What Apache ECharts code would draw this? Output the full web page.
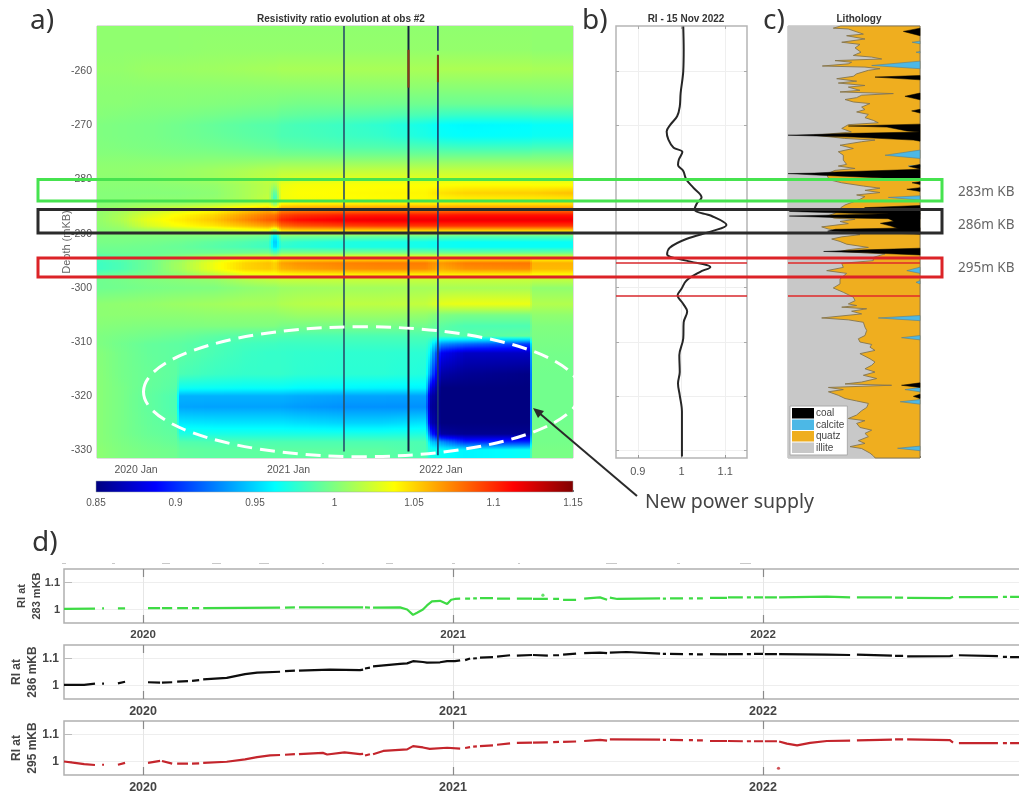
<!DOCTYPE html>
<html><head><meta charset="utf-8">
<script src="https://cdn.jsdelivr.net/npm/echarts@6/dist/echarts.min.js"></script>
<style>html,body{margin:0;padding:0;background:#fff}#c{width:1019px;height:795px;filter:blur(0.45px)}</style>
</head><body><div id="c"></div>
<script>
// ---------- panel a: resistivity ratio, columns = timeYears, rows = heatDepths
const timeYears=[2019.744,2019.90,2020.09,2020.268,2020.282,2020.52,2020.715,2020.87,2020.91,2020.95,2021.075,2021.34,2021.6,2021.90,2021.925,2022.0,2022.16,2022.585,2022.595,2022.866];
const heatDepths=[-251.6,-256,-259.5,-263,-266,-268,-270,-272,-274,-275.5,-277,-278.5,-280,-281,-282.5,-283.5,-284.5,-285.5,-286.5,-287.5,-288.5,-289.5,-290.5,-291.5,-292.5,-293.5,-294.5,-295.5,-296.5,-297.5,-298.5,-300,-303,-305,-307,-309,-310.5,-312,-316,-318.5,-320,-322,-325,-327,-328.5,-330,-331.5];
const heatRows=[
[1.005,1.005,1.005,1.005,1.005,1.005,1.005,1.005,1.005,1.005,1.005,1.005,1.005,1.005,1.005,1.005,1.005,1.005,1.005,1.005],
[1.005,1.005,1.005,1.005,1.005,1.006,1.006,1.006,1.006,1.006,1.006,1.006,1.006,1.006,1.006,1.006,1.006,1.006,1.005,1.005],
[1.006,1.006,1.008,1.008,1.008,1.009,1.010,1.011,1.011,1.012,1.012,1.012,1.012,1.012,1.012,1.013,1.013,1.013,1.012,1.012],
[1.004,1.004,1.004,1.004,1.004,1.004,1.004,1.004,1.004,1.004,1.004,1.004,1.004,1.004,1.004,1.003,1.003,1.003,1.003,1.003],
[1.003,1.003,1.002,1.002,1.002,1.001,1.000,0.999,0.999,0.998,0.997,0.997,0.996,0.995,0.995,0.994,0.994,0.994,0.995,0.995],
[1.002,1.001,1.000,0.999,0.999,0.997,0.995,0.994,0.994,0.992,0.991,0.989,0.987,0.984,0.984,0.980,0.979,0.979,0.980,0.980],
[1.000,0.999,0.998,0.996,0.996,0.992,0.989,0.987,0.987,0.985,0.983,0.980,0.976,0.968,0.967,0.963,0.961,0.962,0.964,0.964],
[1.000,0.999,0.998,0.996,0.996,0.993,0.990,0.988,0.987,0.985,0.984,0.981,0.978,0.970,0.969,0.965,0.963,0.964,0.966,0.966],
[1.001,1.000,0.999,0.998,0.998,0.996,0.994,0.992,0.992,0.990,0.989,0.987,0.986,0.984,0.984,0.981,0.980,0.980,0.982,0.982],
[1.002,1.002,1.001,1.000,1.000,1.000,0.999,0.998,0.998,0.997,0.997,0.996,0.996,0.995,0.995,0.994,0.994,0.994,0.996,0.996],
[1.004,1.004,1.004,1.004,1.004,1.005,1.006,1.007,1.007,1.008,1.008,1.008,1.008,1.008,1.008,1.008,1.008,1.008,1.008,1.008],
[1.005,1.005,1.006,1.007,1.007,1.010,1.013,1.016,1.016,1.018,1.018,1.019,1.020,1.020,1.020,1.020,1.020,1.020,1.020,1.020],
[1.004,1.004,1.005,1.007,1.007,1.010,1.015,1.020,1.020,1.025,1.028,1.030,1.030,1.030,1.030,1.030,1.030,1.030,1.030,1.030],
[1.003,1.003,1.003,1.004,1.004,1.006,1.012,1.018,1.010,1.032,1.035,1.036,1.037,1.037,1.037,1.037,1.038,1.038,1.037,1.037],
[1.002,1.002,1.002,1.002,1.002,1.004,1.012,1.018,0.985,1.034,1.037,1.038,1.039,1.040,1.042,1.046,1.050,1.052,1.052,1.056],
[1.002,1.002,1.003,1.003,1.003,1.005,1.012,1.020,0.975,1.034,1.036,1.037,1.038,1.039,1.040,1.041,1.043,1.044,1.044,1.046],
[1.003,1.005,1.008,1.009,1.009,1.015,1.022,1.028,1.000,1.040,1.042,1.043,1.044,1.044,1.044,1.045,1.046,1.046,1.046,1.046],
[1.005,1.009,1.017,1.024,1.024,1.034,1.048,1.056,1.045,1.066,1.068,1.070,1.071,1.071,1.071,1.071,1.072,1.072,1.072,1.072],
[1.005,1.013,1.027,1.038,1.038,1.050,1.066,1.078,1.078,1.092,1.098,1.103,1.105,1.105,1.105,1.105,1.107,1.107,1.107,1.107],
[1.005,1.014,1.032,1.042,1.042,1.055,1.072,1.086,1.086,1.102,1.110,1.116,1.118,1.118,1.118,1.118,1.118,1.118,1.118,1.118],
[1.004,1.009,1.026,1.036,1.036,1.045,1.056,1.066,1.060,1.080,1.087,1.092,1.095,1.096,1.096,1.096,1.096,1.096,1.096,1.096],
[1.002,1.004,1.008,1.012,1.012,1.018,1.026,1.030,1.000,1.044,1.047,1.047,1.047,1.047,1.047,1.047,1.047,1.047,1.047,1.047],
[1.000,1.000,1.000,1.000,1.000,1.000,0.998,0.995,0.955,1.000,0.998,0.997,0.995,0.994,0.993,0.992,0.990,0.990,0.990,0.990],
[0.998,0.998,0.997,0.995,0.995,0.990,0.986,0.982,0.942,0.980,0.976,0.972,0.970,0.968,0.967,0.966,0.965,0.965,0.965,0.965],
[0.996,0.996,0.995,0.993,0.993,0.988,0.984,0.980,0.948,0.976,0.974,0.971,0.970,0.968,0.967,0.966,0.965,0.965,0.965,0.965],
[0.993,0.994,0.994,0.995,0.995,0.995,0.996,0.998,0.985,1.000,1.000,1.000,1.000,0.998,0.998,0.996,0.995,0.995,0.995,0.995],
[0.984,0.989,0.995,1.004,1.004,1.022,1.034,1.036,1.030,1.040,1.040,1.040,1.040,1.040,1.040,1.040,1.040,1.040,1.035,1.035],
[0.980,0.985,0.995,1.010,1.010,1.034,1.050,1.056,1.050,1.065,1.070,1.074,1.076,1.076,1.072,1.068,1.076,1.078,1.060,1.060],
[0.980,0.985,0.995,1.010,1.010,1.034,1.050,1.054,1.050,1.060,1.065,1.070,1.072,1.072,1.069,1.062,1.070,1.072,1.058,1.058],
[0.990,0.993,0.998,1.005,1.005,1.020,1.034,1.036,1.036,1.040,1.042,1.044,1.045,1.045,1.045,1.045,1.045,1.045,1.040,1.040],
[0.995,0.997,1.000,1.002,1.002,1.006,1.014,1.018,1.018,1.020,1.020,1.020,1.020,1.020,1.020,1.020,1.020,1.020,1.018,1.018],
[0.995,0.996,0.998,0.999,0.999,1.000,1.004,1.006,1.006,1.008,1.009,1.010,1.010,1.011,1.011,1.012,1.012,1.012,1.005,1.005],
[1.004,1.005,1.006,1.008,1.008,1.010,1.012,1.012,1.012,1.014,1.016,1.018,1.018,1.020,1.022,1.030,1.032,1.032,1.015,1.015],
[1.004,1.004,1.004,1.004,1.004,1.005,1.005,1.005,1.005,1.006,1.008,1.008,1.008,1.006,1.004,1.000,0.998,0.998,1.005,1.005],
[1.002,1.001,1.000,1.000,1.000,1.000,1.000,1.000,1.000,0.998,0.998,0.998,0.998,0.996,0.994,0.990,0.985,0.985,1.000,1.000],
[1.000,0.998,0.996,0.994,0.994,0.990,0.988,0.987,0.987,0.986,0.985,0.985,0.985,0.985,0.985,0.985,0.988,0.992,0.999,0.999],
[1.000,0.996,0.992,0.990,0.990,0.985,0.982,0.981,0.981,0.980,0.980,0.980,0.980,0.980,0.972,0.930,0.920,0.905,0.998,0.998],
[1.002,0.997,0.992,0.990,0.990,0.984,0.980,0.978,0.978,0.978,0.977,0.976,0.976,0.975,0.960,0.885,0.870,0.870,0.997,0.997],
[1.003,0.997,0.993,0.990,0.985,0.980,0.978,0.978,0.978,0.978,0.976,0.975,0.975,0.972,0.930,0.862,0.856,0.852,0.996,0.996],
[1.003,0.998,0.992,0.988,0.966,0.965,0.964,0.964,0.964,0.964,0.962,0.961,0.960,0.960,0.885,0.850,0.850,0.850,0.996,0.996],
[1.003,0.998,0.991,0.985,0.940,0.940,0.940,0.940,0.940,0.940,0.938,0.936,0.936,0.935,0.865,0.850,0.850,0.850,0.996,0.996],
[1.003,0.998,0.991,0.985,0.936,0.935,0.935,0.935,0.935,0.935,0.933,0.930,0.930,0.930,0.860,0.850,0.850,0.850,0.996,0.996],
[1.003,0.998,0.992,0.988,0.956,0.955,0.955,0.955,0.955,0.955,0.953,0.950,0.950,0.955,0.870,0.850,0.850,0.850,0.996,0.996],
[1.003,0.998,0.993,0.990,0.972,0.970,0.970,0.970,0.970,0.970,0.970,0.970,0.970,0.972,0.910,0.860,0.855,0.855,0.997,0.997],
[1.003,0.999,0.995,0.992,0.987,0.985,0.985,0.985,0.985,0.985,0.985,0.985,0.985,0.985,0.950,0.930,0.900,0.900,0.997,0.997],
[1.004,1.000,0.997,0.995,0.992,0.990,0.990,0.990,0.990,0.990,0.990,0.990,0.990,0.985,0.970,0.965,0.960,0.965,0.998,0.998],
[1.004,1.000,0.997,0.995,0.992,0.990,0.990,0.990,0.990,0.990,0.990,0.990,0.990,0.985,0.970,0.965,0.960,0.965,0.998,0.998]
];
// failed-acquisition columns: [year, top depth, bottom depth]
const gapDark=[[2021.364,-251.6,-330.3],[2021.787,-251.6,-330.3],[2021.98,-251.6,-256.2],[2021.98,-256.9,-331]];
const gapRed=[[2021.787,-256,-263],[2021.98,-257,-262]];
const heatTicks=[-330,-320,-310,-300,-290,-280,-270,-260];
const heatYearTicks=[2020,2021,2022];
const colorbarTicks=[0.85,0.9,0.95,1,1.05,1.1,1.15];

// ---------- panel b: RI profile [RI, depth]
const profile=[[1.004,-251.7],[1.005,-256],[1.004,-260],[0.998,-264],[0.996,-266.5],[0.990,-268.3],[0.975,-269.8],[0.966,-271.1],[0.970,-272.6],[0.982,-274.1],[1.002,-274.9],[0.994,-276.3],[0.992,-277.3],[1.004,-278.4],[1.011,-280],[1.027,-281.5],[1.046,-283.3],[1.036,-284.3],[1.030,-285.6],[1.068,-286.7],[1.103,-288.4],[1.072,-289.5],[1.011,-291],[0.973,-292.6],[0.967,-293.8],[1.011,-295],[1.066,-296.2],[1.042,-297.1],[1.011,-298.7],[1.000,-300.2],[0.991,-301.4],[1.004,-303],[1.013,-304.4],[1.005,-306.4],[1.004,-309.4],[0.995,-312.5],[0.996,-315.6],[0.992,-317.7],[0.996,-319.9],[1.001,-322.9],[1.001,-331.2]];
const markedDepths=[-295.3,-301.5];

// ---------- panel c: lithology; illite edge [depth, fraction]
const illiteEdge=[[-251.6,.40],[-252,.343],[-252.15,.457],[-253.1,.571],[-253.4,.444],[-254,.583],[-254.6,.407],[-255,.545],[-255.65,.508],[-256.45,.553],[-257.05,.495],[-257.35,.634],[-257.7,.71],[-258,.356],[-258.3,.482],[-258.6,.457],[-259,.26],[-259.2,.583],[-259.5,.697],[-259.8,.609],[-260.45,.52],[-260.9,.495],[-261.35,.369],[-261.8,.52],[-262.15,.381],[-262.6,.583],[-262.9,.457],[-263.5,.545],[-263.8,.394],[-264.1,.798],[-264.4,.558],[-264.85,.52],[-265.2,.432],[-265.65,.495],[-265.95,.621],[-266.6,.558],[-267.05,.583],[-267.5,.52],[-267.95,.609],[-268.55,.583],[-269.05,.646],[-269.5,.684],[-269.85,.457],[-270.55,.407],[-271.2,.48],[-271.8,.2],[-272.4,.43],[-272.7,.659],[-273,.558],[-273.65,.394],[-274.25,.495],[-274.85,.381],[-275.5,.419],[-276.4,.419],[-277.2,.444],[-277.5,.381],[-277.95,.508],[-278.3,.356],[-278.9,.3],[-279.55,.3],[-280.15,.331],[-280.6,.407],[-281.2,.571],[-281.6,.697],[-282,.583],[-282.4,.697],[-282.85,.52],[-283.15,.583],[-283.65,.545],[-284.25,.482],[-284.7,.432],[-285.2,.40],[-285.8,.38],[-286.3,.35],[-286.7,.30],[-287.15,.35],[-287.35,.508],[-287.75,.394],[-288.15,.457],[-288.75,.255],[-289.15,.306],[-289.8,.48],[-290.2,.545],[-290.6,.407],[-291,.331],[-291.45,.394],[-291.95,.444],[-292.55,.609],[-293,.45],[-293.3,.4],[-293.75,.735],[-294.4,.646],[-295,.646],[-295.5,.407],[-296.25,.419],[-296.85,.293],[-297.35,.444],[-298.4,.394],[-299.3,.394],[-300.05,.343],[-300.85,.419],[-301.75,.495],[-302.4,.508],[-303,.457],[-303.3,.52],[-303.6,.407],[-303.9,.596],[-304.35,.482],[-304.85,.558],[-305.6,.255],[-305.95,.457],[-306.4,.571],[-307.3,.583],[-307.9,.596],[-308.85,.583],[-309.45,.533],[-310.05,.545],[-310.5,.634],[-311,.621],[-311.6,.659],[-312.2,.545],[-313.15,.621],[-313.75,.659],[-314.35,.634],[-315,.583],[-315.6,.659],[-316.2,.571],[-316.8,.672],[-317.45,.558],[-317.8,.432],[-318.05,.785],[-318.45,.306],[-318.85,.419],[-319.25,.306],[-319.9,.381],[-320.5,.432],[-320.95,.52],[-321.4,.609],[-322.15,.596],[-322.75,.558],[-323.55,.52],[-324.2,.457],[-324.6,.583],[-325.1,.52],[-325.85,.545],[-326.35,.634],[-326.95,.583],[-327.55,.609],[-328.3,.533],[-328.8,.583],[-329.4,.47],[-329.75,.558],[-330.6,.621],[-331.1,.646],[-331.5,.66]];
const calciteSpikes=[
[[-254.4,1],[-254.6,.94],[-254.9,1]],[[-256.3,1],[-256.45,.97],[-256.6,1]],[[-258.1,1],[-258.9,.634],[-259.5,1]],[[-274.55,1],[-275.5,.735],[-276.1,1]],[[-277.3,1],[-277.5,.91],[-277.7,1]],[[-283,1],[-283.3,.76],[-283.8,1]],[[-296.2,1],[-296.85,.9],[-297.35,1]],[[-298.7,1],[-299,.97],[-299.3,1]],[[-305.15,1],[-305.6,.684],[-306.1,1]],[[-308.85,1],[-309.25,.86],[-309.65,1]],[[-318.45,1],[-318.85,.886],[-319.25,1]],[[-320.7,1],[-321.1,.85],[-321.55,1]],[[-329.3,1],[-329.7,.83],[-330.15,1]]];
const coalSpikes=[
[[-252,1],[-252.6,.874],[-253.4,1]],[[-260.75,1],[-261.05,.659],[-261.55,1]],[[-264,1],[-264.6,.886],[-265.25,1]],[[-267,1],[-267.3,.937],[-267.7,1]],
[[-269.75,1],[-270.1,.457],[-270.3,.75],[-271,.9],[-271.2,1]],[[-271.2,1],[-271.45,.5],[-271.8,0],[-272.15,.5],[-272.7,.95],[-272.9,1]],[[-277.2,1],[-277.6,.92],[-278.05,1]],
[[-278.1,1],[-278.6,.37],[-278.8,.2],[-278.9,0],[-279.2,.25],[-279.85,.85],[-280,1]],[[-280.4,1],[-280.6,.94],[-280.9,1]],[[-281.5,1],[-281.8,.9],[-282.2,1]],
[[-284.8,1],[-285.2,.58],[-285.5,.8],[-286.2,.76],[-287.2,.76],[-287.7,.8],[-288.1,.7],[-288.6,.78],[-289.2,.85],[-290,1]],
[[-285.1,1],[-285.4,.55],[-285.9,.01],[-286.25,.5],[-286.45,1]],[[-286.2,1],[-286.5,.45],[-286.75,.01],[-287.1,.45],[-287.35,1]],[[-288.9,1],[-289.2,.36],[-289.55,.3],[-289.75,.6],[-290.1,1]],
[[-292.7,1],[-293,.6],[-293.3,.27],[-293.55,.6],[-293.95,1]],[[-317.6,1],[-318.05,.86],[-318.45,1]],[[-319.7,1],[-320.1,.95],[-320.5,1]]];

// ---------- panel d: RI time series [year, RI]; null marks a data gap
const ri283=[[2019.745,1.002],[2019.845,1.003],[2019.855,null],[2019.868,1.004],[2019.874,1.004],[2019.89,null],[2019.919,1.004],[2019.942,1.004],[2019.98,null],[2020.016,1.005],[2020.055,1.005],[2020.058,null],[2020.061,1.005],[2020.094,1.005],[2020.1,null],[2020.11,1.005],[2020.145,1.005],[2020.15,null],[2020.158,1.005],[2020.181,1.005],[2020.187,null],[2020.194,1.005],[2020.442,1.007],[2020.45,null],[2020.458,1.007],[2020.49,1.008],[2020.496,null],[2020.503,1.008],[2020.71,1.008],[2020.713,null],[2020.716,1.008],[2020.732,1.007],[2020.737,null],[2020.742,1.007],[2020.829,1.008],[2020.852,1.0],[2020.871,0.98],[2020.884,0.988],[2020.903,1.0],[2020.916,1.015],[2020.932,1.03],[2020.958,1.032],[2020.981,1.02],[2020.994,1.036],[2021.006,1.039],[2021.023,1.04],[2021.03,null],[2021.039,1.04],[2021.055,1.04],[2021.06,null],[2021.065,1.041],[2021.077,1.041],[2021.082,null],[2021.087,1.042],[2021.129,1.042],[2021.135,null],[2021.142,1.04],[2021.184,1.04],[2021.203,null],[2021.206,1.04],[2021.255,1.04],[2021.256,null],[2021.258,1.039],[2021.306,1.039],[2021.315,null],[2021.323,1.039],[2021.342,1.039],[2021.35,null],[2021.355,1.036],[2021.397,1.036],[2021.41,null],[2021.423,1.04],[2021.474,1.045],[2021.497,1.036],[2021.5,null],[2021.506,1.044],[2021.53,1.039],[2021.668,1.041],[2021.672,null],[2021.677,1.04],[2021.687,1.04],[2021.693,null],[2021.7,1.041],[2021.742,1.041],[2021.75,null],[2021.761,1.041],[2021.774,1.041],[2021.78,null],[2021.787,1.041],[2021.806,1.041],[2021.817,null],[2021.829,1.043],[2021.884,1.043],[2021.885,null],[2021.887,1.045],[2021.935,1.045],[2021.94,null],[2021.948,1.045],[2021.961,1.045],[2021.966,null],[2021.971,1.045],[2022.0,1.045],[2022.003,null],[2022.006,1.045],[2022.045,1.045],[2022.048,null],[2022.052,1.045],[2022.206,1.048],[2022.281,1.045],[2022.292,null],[2022.303,1.045],[2022.416,1.045],[2022.42,null],[2022.426,1.044],[2022.452,1.044],[2022.458,null],[2022.465,1.043],[2022.603,1.042],[2022.613,1.047],[2022.622,null],[2022.632,1.046],[2022.758,1.046],[2022.766,null],[2022.774,1.047],[2022.787,1.047],[2022.792,null],[2022.797,1.047],[2022.842,1.047]];
const ri286=[[2019.745,1.002],[2019.81,1.002],[2019.845,1.007],[2019.855,null],[2019.868,1.007],[2019.874,1.007],[2019.89,null],[2019.919,1.008],[2019.942,1.014],[2019.98,null],[2020.016,1.012],[2020.055,1.011],[2020.058,null],[2020.061,1.011],[2020.094,1.012],[2020.1,null],[2020.11,1.014],[2020.145,1.016],[2020.15,null],[2020.158,1.017],[2020.181,1.02],[2020.187,null],[2020.194,1.023],[2020.27,1.028],[2020.329,1.042],[2020.368,1.048],[2020.442,1.051],[2020.45,null],[2020.458,1.053],[2020.49,1.055],[2020.496,null],[2020.503,1.055],[2020.603,1.059],[2020.70,1.057],[2020.71,1.059],[2020.713,null],[2020.716,1.063],[2020.732,1.066],[2020.737,null],[2020.742,1.071],[2020.829,1.08],[2020.852,1.082],[2020.871,1.09],[2020.903,1.087],[2020.916,1.085],[2020.958,1.086],[2020.981,1.09],[2021.006,1.09],[2021.023,1.093],[2021.03,null],[2021.039,1.094],[2021.055,1.1],[2021.06,null],[2021.065,1.1],[2021.077,1.101],[2021.082,null],[2021.087,1.103],[2021.129,1.105],[2021.135,null],[2021.142,1.107],[2021.184,1.112],[2021.203,null],[2021.206,1.111],[2021.255,1.113],[2021.256,null],[2021.258,1.113],[2021.306,1.111],[2021.315,null],[2021.323,1.112],[2021.342,1.112],[2021.35,null],[2021.355,1.114],[2021.397,1.118],[2021.41,null],[2021.423,1.12],[2021.474,1.122],[2021.497,1.12],[2021.5,null],[2021.506,1.122],[2021.56,1.124],[2021.668,1.118],[2021.672,null],[2021.677,1.117],[2021.687,1.117],[2021.693,null],[2021.7,1.117],[2021.742,1.116],[2021.75,null],[2021.761,1.116],[2021.774,1.116],[2021.78,null],[2021.787,1.115],[2021.806,1.115],[2021.817,null],[2021.829,1.116],[2021.884,1.115],[2021.885,null],[2021.887,1.116],[2021.935,1.116],[2021.94,null],[2021.948,1.116],[2021.961,1.116],[2021.966,null],[2021.971,1.117],[2022.0,1.117],[2022.003,null],[2022.006,1.116],[2022.045,1.116],[2022.048,null],[2022.052,1.116],[2022.206,1.114],[2022.281,1.113],[2022.292,null],[2022.303,1.114],[2022.416,1.111],[2022.42,null],[2022.426,1.11],[2022.452,1.11],[2022.458,null],[2022.465,1.108],[2022.603,1.109],[2022.613,1.111],[2022.622,null],[2022.632,1.112],[2022.758,1.109],[2022.766,null],[2022.774,1.106],[2022.787,1.106],[2022.792,null],[2022.797,1.105],[2022.842,1.105]];
const ri295=[[2019.745,1.0],[2019.78,0.995],[2019.81,0.99],[2019.845,0.987],[2019.855,null],[2019.868,0.988],[2019.874,0.988],[2019.89,null],[2019.919,0.988],[2019.942,0.995],[2019.98,null],[2020.016,0.995],[2020.055,1.002],[2020.058,null],[2020.061,1.002],[2020.094,0.992],[2020.1,null],[2020.11,0.992],[2020.145,0.992],[2020.15,null],[2020.158,0.992],[2020.181,0.993],[2020.187,null],[2020.194,0.995],[2020.27,0.999],[2020.329,1.008],[2020.368,1.016],[2020.41,1.023],[2020.442,1.024],[2020.45,null],[2020.458,1.025],[2020.49,1.027],[2020.496,null],[2020.503,1.027],[2020.58,1.032],[2020.594,1.026],[2020.65,1.034],[2020.70,1.027],[2020.71,1.028],[2020.713,null],[2020.716,1.022],[2020.732,1.027],[2020.737,null],[2020.742,1.027],[2020.775,1.039],[2020.852,1.045],[2020.871,1.057],[2020.903,1.052],[2020.925,1.047],[2020.981,1.051],[2021.023,1.048],[2021.03,null],[2021.039,1.05],[2021.055,1.053],[2021.06,null],[2021.065,1.055],[2021.077,1.056],[2021.082,null],[2021.087,1.057],[2021.129,1.06],[2021.135,null],[2021.142,1.062],[2021.184,1.067],[2021.203,null],[2021.206,1.069],[2021.255,1.07],[2021.256,null],[2021.258,1.07],[2021.306,1.071],[2021.315,null],[2021.323,1.072],[2021.342,1.073],[2021.35,null],[2021.355,1.073],[2021.397,1.074],[2021.41,null],[2021.423,1.076],[2021.474,1.08],[2021.497,1.077],[2021.5,null],[2021.506,1.082],[2021.668,1.081],[2021.672,null],[2021.677,1.08],[2021.687,1.08],[2021.693,null],[2021.7,1.08],[2021.742,1.079],[2021.75,null],[2021.761,1.079],[2021.774,1.079],[2021.78,null],[2021.787,1.078],[2021.806,1.078],[2021.817,null],[2021.829,1.076],[2021.884,1.076],[2021.885,null],[2021.887,1.076],[2021.935,1.075],[2021.94,null],[2021.948,1.075],[2021.961,1.075],[2021.966,null],[2021.971,1.075],[2022.0,1.075],[2022.003,null],[2022.006,1.075],[2022.045,1.075],[2022.048,null],[2022.052,1.074],[2022.077,1.066],[2022.11,1.06],[2022.152,1.069],[2022.206,1.076],[2022.281,1.077],[2022.292,null],[2022.303,1.078],[2022.416,1.081],[2022.42,null],[2022.426,1.082],[2022.452,1.082],[2022.458,null],[2022.465,1.082],[2022.603,1.079],[2022.613,1.07],[2022.622,null],[2022.632,1.068],[2022.758,1.068],[2022.766,null],[2022.774,1.068],[2022.787,1.068],[2022.792,null],[2022.797,1.068],[2022.842,1.068]];
const isolated283=[[2021.29,1.053]];
const isolated295=[[2022.05,0.975]];
const seriesTicks=[1,1.1];
const seriesYearTicks=[2020,2021,2022];

// ---------- rendering helpers
const clamp=x=>Math.max(0,Math.min(1,x));
function jet(val){const v=clamp((val-0.85)/0.3);
 const r=clamp(Math.min(4*v-1.5,-4*v+4.5)),g=clamp(Math.min(4*v-0.5,-4*v+3.5)),b=clamp(Math.min(4*v+0.5,-4*v+2.5));
 return `rgb(${Math.round(r*255)},${Math.round(g*255)},${Math.round(b*255)})`;}
const G=echarts.graphic;
const FONT='"Liberation Sans",Arial,sans-serif';
const heatData=[];
for(let j=0;j<heatDepths.length-1;j++)for(let i=0;i<timeYears.length-1;i++)
 heatData.push([timeYears[i],timeYears[i+1],heatDepths[j],heatDepths[j+1],heatRows[j][i],heatRows[j][i+1],heatRows[j+1][i],heatRows[j+1][i+1]]);
function renderHeat(p,api){
 const t0=api.value(0),t1=api.value(1),d0=api.value(2),d1=api.value(3),a=api.value(4),b=api.value(5),c=api.value(6),e=api.value(7);
 const p0=api.coord([t0,d0]),p1=api.coord([t1,d1]);
 const y0=Math.round(p0[1]),y1=Math.round(p1[1]),W=p1[0]-p0[0],n=Math.max(1,Math.ceil(W/3)),w=W/n,children=[];
 for(let k=0;k<n;k++){const f=(k+0.5)/n,top=a+(b-a)*f,bot=c+(e-c)*f,stops=[];
  for(let s=0;s<=4;s++)stops.push({offset:s/4,color:jet(top+(bot-top)*s/4)});
  const x0=Math.round(p0[0]+k*w),x1=Math.round(p0[0]+(k+1)*w);
  if(x1>x0&&y1>y0)children.push({type:'rect',silent:true,shape:{x:x0,y:y0,width:x1-x0,height:y1-y0},style:{fill:new G.LinearGradient(0,0,0,1,stops)}});}
 return {type:'group',children};
}
function polyItem(api,pts,style){return {type:'polygon',shape:{points:pts.map(q=>api.coord(q))},style};}
function rightClosed(edge){const pts=edge.map(e=>[e[1],e[0]]);pts.push([1,edge[edge.length-1][0]]);pts.push([1,edge[0][0]]);return pts;}

// ---------- layout
const grids=[
 {left:97,top:26,width:476,height:432,show:true,borderColor:'#bdbdbd',borderWidth:1},
 {left:96,top:481,width:477,height:11,show:false},
 {left:616,top:26,width:131,height:432,show:true,borderColor:'#b5b5b5',borderWidth:1.5},
 {left:788,top:26,width:132,height:432,show:true,borderColor:'#a8a8a8',borderWidth:1},
 {left:64,top:569,width:960,height:54,show:true,borderColor:'#b0b0b0',borderWidth:1.5},
 {left:64,top:645,width:960,height:54,show:true,borderColor:'#b0b0b0',borderWidth:1.5},
 {left:64,top:721,width:960,height:54,show:true,borderColor:'#b0b0b0',borderWidth:1.5}].map(g=>Object.assign(g,{outerBoundsMode:'none'}));
const noLine={show:false};
const xAxes=[
 {gridIndex:0,type:'value',min:2019.744,max:2022.866,axisLine:noLine,splitLine:noLine,
  axisTick:{show:true,inside:true,length:3,customValues:heatYearTicks,lineStyle:{color:'#999'}},
  axisLabel:{customValues:heatYearTicks,formatter:v=>v+' Jan',color:'#555',fontSize:10.5,fontFamily:FONT,margin:7}},
 {gridIndex:1,type:'value',min:0.85,max:1.15,axisLine:noLine,splitLine:noLine,
  axisTick:{show:true,inside:true,length:2,customValues:colorbarTicks,lineStyle:{color:'#666'}},
  axisLabel:{customValues:colorbarTicks,formatter:v=>String(v),color:'#555',fontSize:10,fontFamily:FONT,margin:6}},
 {gridIndex:2,type:'value',min:0.85,max:1.15,axisLine:noLine,
  splitLine:{show:true,lineStyle:{color:'#efefef'}},
  axisTick:{show:true,inside:true,length:3,customValues:[0.9,1,1.1],lineStyle:{color:'#999'}},
  axisLabel:{customValues:[0.9,1,1.1],formatter:v=>String(v),color:'#555',fontSize:11,fontFamily:FONT,margin:8}},
 {gridIndex:3,type:'value',min:0,max:1,axisLine:noLine,splitLine:noLine,axisLabel:noLine,
  axisTick:{show:true,inside:true,length:2,customValues:[0.5,1],lineStyle:{color:'#777'}}}];
const yAxes=[
 {gridIndex:0,type:'value',min:-331.5,max:-251.6,axisLine:noLine,splitLine:noLine,
  name:'Depth (mKB)',nameLocation:'middle',nameRotate:90,nameGap:25,nameMoveOverlap:false,nameTextStyle:{color:'#666',fontSize:11,fontFamily:FONT},
  axisTick:{show:true,inside:true,length:3,customValues:heatTicks,lineStyle:{color:'#999'}},
  axisLabel:{customValues:heatTicks,color:'#555',fontSize:10.5,fontFamily:FONT,margin:5}},
 {gridIndex:1,type:'value',min:0,max:1,axisLine:noLine,splitLine:noLine,axisTick:noLine,axisLabel:noLine},
 {gridIndex:2,type:'value',min:-331.5,max:-251.6,axisLine:noLine,axisLabel:noLine,
  splitLine:{show:true,lineStyle:{color:'#efefef'}},
  axisTick:{show:true,inside:true,length:3,customValues:heatTicks,lineStyle:{color:'#aaa'}}},
 {gridIndex:3,type:'value',min:-331.5,max:-251.6,axisLine:noLine,splitLine:noLine,axisLabel:noLine,
  axisTick:{show:true,inside:true,length:2,customValues:heatTicks,lineStyle:{color:'#888'}}}];
// mirrored ticks on the opposite side of panels a and b
yAxes.push({gridIndex:0,type:'value',position:'right',min:-331.5,max:-251.6,axisLine:noLine,splitLine:noLine,axisLabel:noLine,
  axisTick:{show:true,inside:true,length:3,customValues:heatTicks,lineStyle:{color:'#999'}}});
yAxes.push({gridIndex:2,type:'value',position:'right',min:-331.5,max:-251.6,axisLine:noLine,splitLine:noLine,axisLabel:noLine,
  axisTick:{show:true,inside:true,length:3,customValues:heatTicks,lineStyle:{color:'#aaa'}}});
xAxes.push({gridIndex:2,type:'value',position:'top',min:0.85,max:1.15,axisLine:noLine,splitLine:noLine,axisLabel:noLine,
  axisTick:{show:true,inside:true,length:3,customValues:[0.9,1,1.1],lineStyle:{color:'#aaa'}}});

const series=[
 {type:'custom',name:'ratio',xAxisIndex:0,yAxisIndex:0,silent:true,encode:{x:[0,1],y:[2,3]},data:heatData,renderItem:renderHeat,progressive:0,z:2},
 {type:'custom',xAxisIndex:0,yAxisIndex:0,silent:true,data:gapDark,encode:{x:0,y:[1,2]},z:3,progressive:0,
  renderItem:(p,api)=>{const a=api.coord([api.value(0),api.value(1)]),b=api.coord([api.value(0),api.value(2)]);
   return {type:'line',shape:{x1:a[0],y1:a[1],x2:b[0],y2:b[1]},style:{stroke:p.dataIndex===0?'#2a4f6b':(p.dataIndex===1?'#14233f':'#1c3a72'),lineWidth:p.dataIndex===1?2:1.6}};}},
 {type:'custom',xAxisIndex:0,yAxisIndex:0,silent:true,data:gapRed,encode:{x:0,y:[1,2]},z:4,
  renderItem:(p,api)=>{const a=api.coord([api.value(0),api.value(1)]),b=api.coord([api.value(0),api.value(2)]);
   return {type:'line',shape:{x1:a[0],y1:a[1],x2:b[0],y2:b[1]},style:{stroke:'#8a3a18',lineWidth:2}};}},
 {type:'custom',xAxisIndex:1,yAxisIndex:1,silent:true,data:[[0.85,1.15]],encode:{x:[0,1]},
  renderItem:(p,api)=>{const a=api.coord([api.value(0),1]),b=api.coord([api.value(1),0]);
   const stops=[0,0.125,0.375,0.625,0.875,1].map(o=>({offset:o,color:jet(0.85+0.3*o)}));
   return {type:'rect',shape:{x:a[0],y:a[1],width:b[0]-a[0],height:b[1]-a[1]},style:{fill:new G.LinearGradient(0,0,1,0,stops),stroke:'#9aa',lineWidth:0.5}};}},
 {type:'line',xAxisIndex:2,yAxisIndex:2,data:profile,showSymbol:false,smooth:0.35,lineStyle:{color:'#262626',width:2},silent:true,z:3,
  markLine:{silent:true,symbol:'none',label:{show:false},animation:false,lineStyle:{color:'#d8282c',width:1.6,type:'solid'},data:markedDepths.map(d=>({yAxis:d}))}},
 {type:'custom',name:'illite',xAxisIndex:3,yAxisIndex:3,silent:true,data:[[0,-290]],itemStyle:{color:'#c8c8c8'},z:2,
  renderItem:(p,api)=>polyItem(api,[[0,-251.6],[1,-251.6],[1,-331.5],[0,-331.5]],{fill:'#c8c8c8'})},
 {type:'custom',name:'quatz',xAxisIndex:3,yAxisIndex:3,silent:true,data:[[0,-290]],itemStyle:{color:'#efae1f'},z:3,
  renderItem:(p,api)=>polyItem(api,rightClosed(illiteEdge),{fill:'#efae1f',stroke:'#85754e',lineWidth:0.9,lineJoin:'miter'})},
 {type:'custom',name:'calcite',xAxisIndex:3,yAxisIndex:3,silent:true,data:calciteSpikes.map((s,i)=>[i,0]),itemStyle:{color:'#4cb8e6'},z:4,
  renderItem:(p,api)=>polyItem(api,rightClosed(calciteSpikes[p.dataIndex]),{fill:'#4cb8e6',stroke:'#5c7d86',lineWidth:0.6})},
 {type:'custom',name:'coal',xAxisIndex:3,yAxisIndex:3,silent:true,data:coalSpikes.map((s,i)=>[i,0]),itemStyle:{color:'#000'},z:5,
  renderItem:(p,api)=>polyItem(api,rightClosed(coalSpikes[p.dataIndex]),{fill:'#000',stroke:'#000',lineWidth:0.5})},
 {type:'line',xAxisIndex:3,yAxisIndex:3,data:[],silent:true,z:6,
  markLine:{silent:true,symbol:'none',label:{show:false},animation:false,lineStyle:{color:'#e02a2a',width:1.6,type:'solid'},data:markedDepths.map(d=>({yAxis:d}))}}
];
const panels=[[ri283,'RI at\n283 mKB','#3edb44',isolated283,11,20,4],[ri286,'RI at\n286 mKB','#0d0d0d',[],12,23,5],[ri295,'RI at\n295 mKB','#c4252c',isolated295,12,23,5]];
panels.forEach((P,k)=>{
 const g=4+k,xi=xAxes.length,yi=yAxes.length;
 xAxes.push({gridIndex:g,type:'value',min:2019.745,max:2022.842,axisLine:noLine,
  splitLine:{show:true,lineStyle:{color:'#e6e6e6'}},
  axisTick:{show:true,inside:true,length:8,customValues:seriesYearTicks,lineStyle:{color:'#8a8a8a',width:1.2}},
  axisLabel:{customValues:seriesYearTicks,formatter:v=>String(v),color:'#444',fontWeight:'bold',fontSize:k?12.5:11.5,fontFamily:FONT,margin:6}});
 xAxes.push({gridIndex:g,type:'value',position:'top',min:2019.745,max:2022.842,axisLine:noLine,splitLine:noLine,axisLabel:noLine,
  axisTick:{show:true,inside:true,length:8,customValues:seriesYearTicks,lineStyle:{color:'#8a8a8a',width:1.2}}});
 yAxes.push({gridIndex:g,type:'value',min:0.95,max:1.15,axisLine:noLine,
  splitLine:{show:true,lineStyle:{color:'#eeeeee'}},
  axisTick:{show:true,inside:true,length:8,customValues:seriesTicks,lineStyle:{color:'#bbb'}},
  axisLabel:{customValues:seriesTicks,formatter:v=>String(v),color:'#444',fontWeight:'bold',fontSize:P[4],fontFamily:FONT,margin:P[6]},
  name:P[1],nameLocation:'middle',nameRotate:90,nameGap:P[5],nameMoveOverlap:false,
  nameTextStyle:{color:'#444',fontWeight:'bold',fontSize:P[4],fontFamily:FONT,lineHeight:P[4]+4}});
 series.push({type:'line',xAxisIndex:xi,yAxisIndex:yi,data:P[0],connectNulls:false,showSymbol:false,silent:true,z:3,
  lineStyle:{color:P[2],width:2.2,cap:'butt'}});
 series.push({type:'scatter',xAxisIndex:xi,yAxisIndex:yi,data:P[3],symbolSize:3.2,itemStyle:{color:P[2]},silent:true,z:3});
});

// ---------- annotations
const letter=(t,x,y)=>({type:'text',x,y,z:60,style:{text:t,fill:'#333',font:'28px "Noto Sans",sans-serif',verticalAlign:'middle'}});
const box=(y,h,c)=>({type:'rect',z:50,silent:true,shape:{x:38,y,width:904,height:h},style:{fill:'none',stroke:c,lineWidth:3}});
const side=(t,y)=>({type:'text',x:958,y,z:60,style:{text:t,fill:'#666',font:'13.5px "Noto Sans",sans-serif',verticalAlign:'middle'}});
const ghostTicks=[[62,4],[112,3],[162,8],[212,9],[259,10],[322,2],[386,7],[452,3],[518,2],[606,11],[677,3],[740,11]];
const graphic=[
 letter('a)',30,21),letter('b)',582,21),letter('c)',763,21),letter('d)',32,543),
 box(179.5,21.5,'#46e34f'),box(209.5,23.5,'#2b2b2b'),box(258,19,'#dc2327'),
 side('283m KB',192),side('286m KB',225),side('295m KB',268),
 {type:'ellipse',z:40,silent:true,shape:{cx:362,cy:391.7,rx:218.5,ry:65},style:{fill:'none',stroke:'#fff',lineWidth:3,lineDash:[15,8]}},
 {type:'line',z:45,silent:true,shape:{x1:637,y1:496,x2:538,y2:412},style:{stroke:'#2a2a2a',lineWidth:2}},
 {type:'polygon',z:45,silent:true,shape:{points:[[533,408],[544,411],[538,418]]},style:{fill:'#2a2a2a'}},
 {type:'text',x:645,y:502,z:60,style:{text:'New power supply',fill:'#444',font:'19.5px "Noto Sans",sans-serif',verticalAlign:'middle'}},
 ...ghostTicks.map(q=>({type:'rect',z:10,silent:true,shape:{x:q[0],y:563,width:q[1],height:1},style:{fill:'#c8c8c8'}}))
];
const ttl=(t,x)=>({text:t,left:x,top:9,textAlign:'center',textStyle:{fontFamily:FONT,fontWeight:'bold',fontSize:10,color:'#333'}});
const chart=echarts.init(document.getElementById('c'),null,{renderer:'canvas',width:1019,height:795});
chart.setOption({animation:false,backgroundColor:'#fff',
 title:[ttl('Resistivity ratio evolution at obs #2',336),ttl('RI - 15 Nov 2022',681),ttl('Lithology',854)],
 legend:{show:true,data:['coal','calcite','quatz','illite'],orient:'vertical',left:790,top:406,padding:[2,3,2,2],itemGap:1,itemWidth:22,itemHeight:10.5,icon:'rect',
  backgroundColor:'#fff',borderColor:'#aaa',borderWidth:1,selectedMode:false,textStyle:{fontSize:10,color:'#444',fontFamily:FONT,padding:[0,0,0,-3]},z:20},
 grid:grids,xAxis:xAxes,yAxis:yAxes,series,graphic:{elements:graphic}});
</script></body></html>
